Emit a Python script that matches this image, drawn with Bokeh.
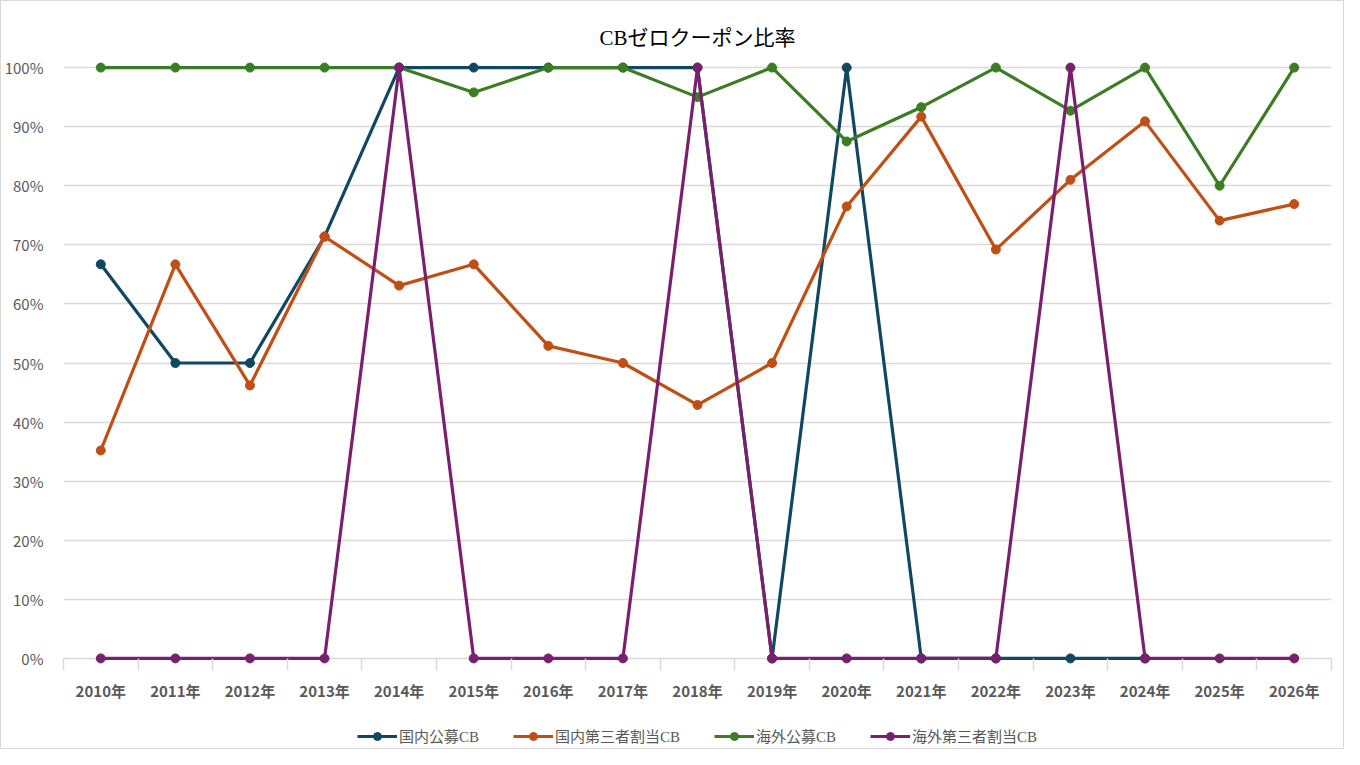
from bokeh.plotting import figure
from bokeh.layouts import column
from bokeh.models import (
    ColumnDataSource, Range1d, FixedTicker, NumeralTickFormatter,
)
from bokeh.embed import file_html
from bokeh.resources import INLINE

nan = float("nan")

# ── Data ─────────────────────────────────────────────────────────
years = ["2010年", "2011年", "2012年", "2013年", "2014年", "2015年", "2016年",
         "2017年", "2018年", "2019年", "2020年", "2021年", "2022年", "2023年",
         "2024年", "2025年", "2026年"]

series_names = ["国内公募CB", "国内第三者割当CB", "海外公募CB", "海外第三者割当CB"]

domestic_public = [0.667, 0.5, 0.5, 0.714, 1.0, 1.0, 1.0, 1.0, 1.0, 0.0,
                   1.0, 0.0, 0.0, 0.0, 0.0, nan, nan]
domestic_private = [0.352, 0.667, 0.462, 0.714, 0.631, 0.667, 0.529, 0.5,
                    0.429, 0.5, 0.765, 0.917, 0.692, 0.81, 0.909, 0.741, 0.769]
overseas_public = [1.0, 1.0, 1.0, 1.0, 1.0, 0.958, 1.0, 1.0, 0.95, 1.0,
                   0.875, 0.933, 1.0, 0.927, 1.0, 0.8, 1.0]
overseas_private = [0.0, 0.0, 0.0, 0.0, 1.0, 0.0, 0.0, 0.0, 1.0, 0.0,
                    0.0, 0.0, 0.0, 1.0, 0.0, 0.0, 0.0]

y_ticks = [0.0, 0.1, 0.2, 0.3, 0.4, 0.5, 0.6, 0.7, 0.8, 0.9, 1.0]

# ── Theme ────────────────────────────────────────────────────────
COLORS = ["#104862", "#C04F15", "#3B7D23", "#78206E"]
GRID = "#d9d9d9"
TEXT = "#595959"
SANS = "'Noto Sans CJK JP', Lato, sans-serif"
SERIF = "'Liberation Serif', 'Noto Sans CJK JP', serif"

xs = list(range(len(years)))
all_series = [domestic_public, domestic_private, overseas_public, overseas_private]

# ── Main chart ───────────────────────────────────────────────────
p = figure(
    width=1342, height=702,
    x_range=Range1d(-0.5, len(years) - 0.5),
    y_range=Range1d(-0.012, 1.012),
    output_backend="svg", toolbar_location=None,
    title="CBゼロクーポン比率",
    min_border_left=60, min_border_right=12,
    min_border_top=59, min_border_bottom=36,
)
p.outline_line_color = None
p.background_fill_color = "white"
p.border_fill_color = "white"

p.title.align = "center"
p.title.text_font = SERIF
p.title.text_font_size = "21px"
p.title.text_font_style = "normal"
p.title.text_color = "#000000"
p.title.offset = 0
p.title.standoff = 22

# y axis / grid
p.yaxis.ticker = FixedTicker(ticks=y_ticks)
p.yaxis.formatter = NumeralTickFormatter(format="0%")
p.yaxis.axis_line_color = None
p.yaxis.major_tick_line_color = None
p.yaxis.minor_tick_line_color = None
p.yaxis.major_label_text_font = SANS
p.yaxis.major_label_text_font_size = "15px"
p.yaxis.major_label_text_color = TEXT
p.yaxis.major_label_standoff = 14
p.ygrid.ticker = FixedTicker(ticks=y_ticks)
p.ygrid.grid_line_color = GRID
p.ygrid.grid_line_width = 1.5
p.xgrid.grid_line_color = None

# x axis: labels at category centres, ticks between categories
p.xaxis.ticker = FixedTicker(ticks=xs, minor_ticks=[x - 0.5 for x in xs] + [xs[-1] + 0.5])
p.xaxis.major_label_overrides = {x: y for x, y in zip(xs, years)}
p.xaxis.axis_line_color = None
p.xaxis.major_tick_line_color = None
p.xaxis.minor_tick_line_color = GRID
p.xaxis.minor_tick_line_width = 1.5
p.xaxis.minor_tick_in = 7
p.xaxis.minor_tick_out = 5
p.xaxis.major_label_text_font = SANS
p.xaxis.major_label_text_font_size = "15px"
p.xaxis.major_label_text_font_style = "bold"
p.xaxis.major_label_text_color = TEXT
p.xaxis.major_label_standoff = 8

for name, vals, color in zip(series_names, all_series, COLORS):
    src = ColumnDataSource(data={"x": xs, "y": vals})
    p.line("x", "y", source=src, line_color=color, line_width=3.2)
    p.scatter("x", "y", source=src, marker="circle", size=9,
              fill_color=color, line_color=color)

# ── Legend strip (separate figure so it sits under the axis) ────
lg = figure(
    width=1342, height=45,
    x_range=Range1d(0, 1), y_range=Range1d(0, 1),
    output_backend="svg", toolbar_location=None,
    x_axis_location=None, y_axis_location=None,
    min_border=0,
)
lg.outline_line_color = None
lg.xgrid.visible = False
lg.ygrid.visible = False
for name, color in zip(series_names, COLORS):
    # a single missing point: nothing is plotted, only the legend entry shows
    blank = ColumnDataSource(data={"x": [nan], "y": [nan]})
    lg.line("x", "y", source=blank, line_color=color, line_width=3.2, legend_label=name)
    lg.scatter("x", "y", source=blank, marker="circle", size=9,
               fill_color=color, line_color=color, legend_label=name)

lg.legend.orientation = "horizontal"
lg.legend.location = "bottom"
lg.legend.label_text_font = SERIF
lg.legend.label_text_font_size = "15px"
lg.legend.label_text_color = TEXT
lg.legend.border_line_color = None
lg.legend.background_fill_alpha = 0
lg.legend.glyph_width = 40
lg.legend.label_standoff = 2
lg.legend.spacing = 34
lg.legend.margin = 2
lg.legend.padding = 4

layout = column(p, lg, spacing=0, styles={"border": "1px solid #d9d9d9"})

open("out.html", "w").write(file_html(layout, INLINE))
